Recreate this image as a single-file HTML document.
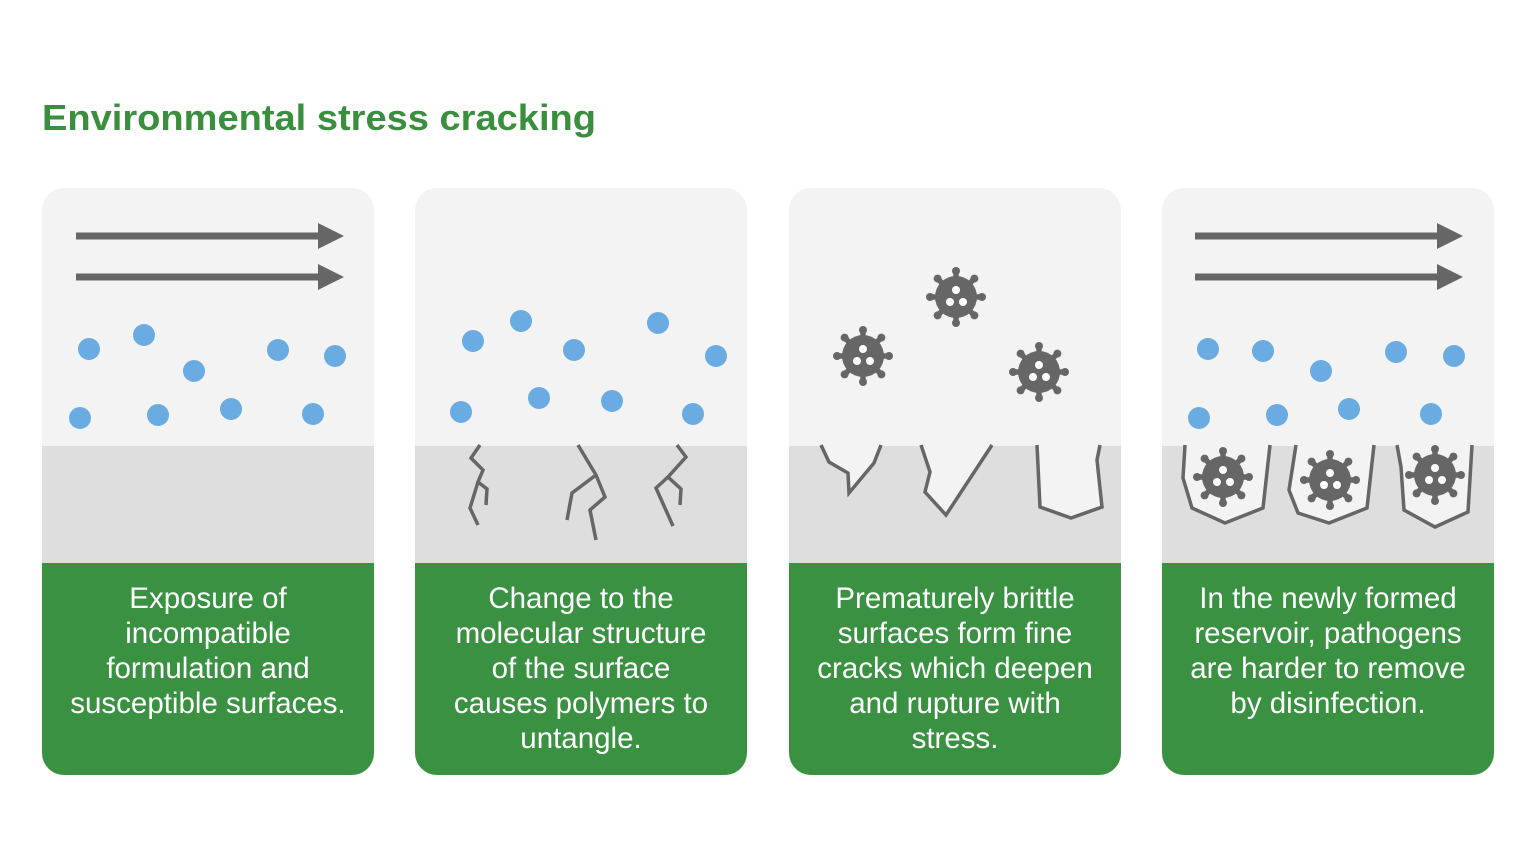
<!DOCTYPE html>
<html><head><meta charset="utf-8"><style>
html,body{margin:0;padding:0;background:#fff;}
svg{display:block;font-family:"Liberation Sans",Arial,sans-serif;}
</style></head><body>
<svg width="1536" height="864" viewBox="0 0 1536 864" xmlns="http://www.w3.org/2000/svg">
<defs>
<g id="v">
  <g stroke="#666" stroke-width="5.5" stroke-linecap="butt">
    <line x1="0" y1="0" x2="0" y2="-25"/><line x1="0" y1="0" x2="0" y2="25"/>
    <line x1="0" y1="0" x2="-25" y2="0"/><line x1="0" y1="0" x2="25" y2="0"/>
    <line x1="0" y1="0" x2="-17.7" y2="-17.7"/><line x1="0" y1="0" x2="17.7" y2="17.7"/>
    <line x1="0" y1="0" x2="-17.7" y2="17.7"/><line x1="0" y1="0" x2="17.7" y2="-17.7"/>
  </g>
  <g fill="#666">
    <circle r="21"/>
    <circle cx="0" cy="-26" r="4"/><circle cx="0" cy="26" r="4"/><circle cx="-26" cy="0" r="4"/><circle cx="26" cy="0" r="4"/>
    <circle cx="-18.4" cy="-18.4" r="4"/><circle cx="18.4" cy="18.4" r="4"/><circle cx="-18.4" cy="18.4" r="4"/><circle cx="18.4" cy="-18.4" r="4"/>
  </g>
  <g fill="#fff"><circle cx="0" cy="-7" r="4"/><circle cx="-6" cy="5" r="4"/><circle cx="7" cy="5" r="4"/></g>
</g>
<g id="arr" fill="#666">
  <rect x="0" y="-3.5" width="250" height="7"/>
  <path d="M242,-13 L268,0 L242,13 Z"/>
</g>
<clipPath id="c1"><rect x="42" y="188" width="332" height="587" rx="22"/></clipPath>
<clipPath id="c2"><rect x="415" y="188" width="332" height="587" rx="22"/></clipPath>
<clipPath id="c3"><rect x="789" y="188" width="332" height="587" rx="22"/></clipPath>
<clipPath id="c4"><rect x="1162" y="188" width="332" height="587" rx="22"/></clipPath>
</defs>

<text x="42" y="130" font-size="36" font-weight="bold" fill="#3a8f3f" textLength="554" lengthAdjust="spacingAndGlyphs">Environmental stress cracking</text>

<g clip-path="url(#c1)">
  <rect x="42" y="188" width="332" height="258" fill="#f3f3f3"/>
  <rect x="42" y="446" width="332" height="117" fill="#dedede"/>
  <rect x="42" y="563" width="332" height="212" fill="#3a9142"/>
</g>
<g clip-path="url(#c2)">
  <rect x="415" y="188" width="332" height="258" fill="#f3f3f3"/>
  <rect x="415" y="446" width="332" height="117" fill="#dedede"/>
  <rect x="415" y="563" width="332" height="212" fill="#3a9142"/>
</g>
<g clip-path="url(#c3)">
  <rect x="789" y="188" width="332" height="258" fill="#f3f3f3"/>
  <rect x="789" y="446" width="332" height="117" fill="#dedede"/>
  <rect x="789" y="563" width="332" height="212" fill="#3a9142"/>
</g>
<g clip-path="url(#c4)">
  <rect x="1162" y="188" width="332" height="258" fill="#f3f3f3"/>
  <rect x="1162" y="446" width="332" height="117" fill="#dedede"/>
  <rect x="1162" y="563" width="332" height="212" fill="#3a9142"/>
</g>

<use href="#arr" x="76" y="236"/><use href="#arr" x="76" y="277"/>
<use href="#arr" x="1195" y="236"/><use href="#arr" x="1195" y="277"/>

<g fill="#6aace2">
  <circle cx="89" cy="349" r="11"/><circle cx="144" cy="335" r="11"/><circle cx="194" cy="371" r="11"/><circle cx="278" cy="350" r="11"/><circle cx="335" cy="356" r="11"/><circle cx="80" cy="418" r="11"/><circle cx="158" cy="415" r="11"/><circle cx="231" cy="409" r="11"/><circle cx="313" cy="414" r="11"/>
  <circle cx="473" cy="341" r="11"/><circle cx="521" cy="321" r="11"/><circle cx="574" cy="350" r="11"/><circle cx="658" cy="323" r="11"/><circle cx="716" cy="356" r="11"/><circle cx="461" cy="412" r="11"/><circle cx="539" cy="398" r="11"/><circle cx="612" cy="401" r="11"/><circle cx="693" cy="414" r="11"/>
  <circle cx="1208" cy="349" r="11"/><circle cx="1263" cy="351" r="11"/><circle cx="1321" cy="371" r="11"/><circle cx="1396" cy="352" r="11"/><circle cx="1454" cy="356" r="11"/><circle cx="1199" cy="418" r="11"/><circle cx="1277" cy="415" r="11"/><circle cx="1349" cy="409" r="11"/><circle cx="1431" cy="414" r="11"/>
</g>

<g fill="none" stroke="#666" stroke-width="3.5">
  <polyline points="480,445 471,458 483,470 478,482 487,489 486,505"/>
  <polyline points="478,482 470,508 478,525"/>
  <polyline points="578,445 596,475 605,497 590,510 596,540"/>
  <polyline points="596,475 572,493 567,520"/>
  <polyline points="677,445 686,457 668,477 681,489 680,505"/>
  <polyline points="668,477 656,488 673,526"/>
</g>

<g fill="#f3f3f3" stroke="#666" stroke-width="3.5">
  <polyline points="821,445 829,462 848,473 849,493 874,463 881,445"/>
  <polyline points="921,445 930,472 925,492 946,515 992,445"/>
  <polyline points="1037,445 1040,507 1071,518 1102,507 1097,460 1100,445"/>
</g>
<use href="#v" x="863" y="356"/><use href="#v" x="956" y="297"/><use href="#v" x="1039" y="372"/>

<g fill="#f3f3f3" stroke="#666" stroke-width="3.5">
  <polyline points="1185,445 1183,478 1192,508 1225,523 1263,508 1270,445"/>
  <polyline points="1296,445 1289,490 1298,513 1329,523 1367,508 1374,445"/>
  <polyline points="1397,445 1401,467 1404,510 1435,527 1468,512 1472,445"/>
</g>
<use href="#v" x="1223" y="477"/><use href="#v" x="1330" y="480"/><use href="#v" x="1435" y="475"/>

<g fill="#fff" font-size="29.5" text-anchor="middle">
  <text x="208" y="608">Exposure of</text>
  <text x="208" y="643">incompatible</text>
  <text x="208" y="678">formulation and</text>
  <text x="208" y="713">susceptible surfaces.</text>

  <text x="581" y="608">Change to the</text>
  <text x="581" y="643">molecular structure</text>
  <text x="581" y="678">of the surface</text>
  <text x="581" y="713">causes polymers to</text>
  <text x="581" y="748">untangle.</text>

  <text x="955" y="608">Prematurely brittle</text>
  <text x="955" y="643">surfaces form fine</text>
  <text x="955" y="678">cracks which deepen</text>
  <text x="955" y="713">and rupture with</text>
  <text x="955" y="748">stress.</text>

  <text x="1328" y="608">In the newly formed</text>
  <text x="1328" y="643">reservoir, pathogens</text>
  <text x="1328" y="678">are harder to remove</text>
  <text x="1328" y="713">by disinfection.</text>
</g>
</svg>
</body></html>
